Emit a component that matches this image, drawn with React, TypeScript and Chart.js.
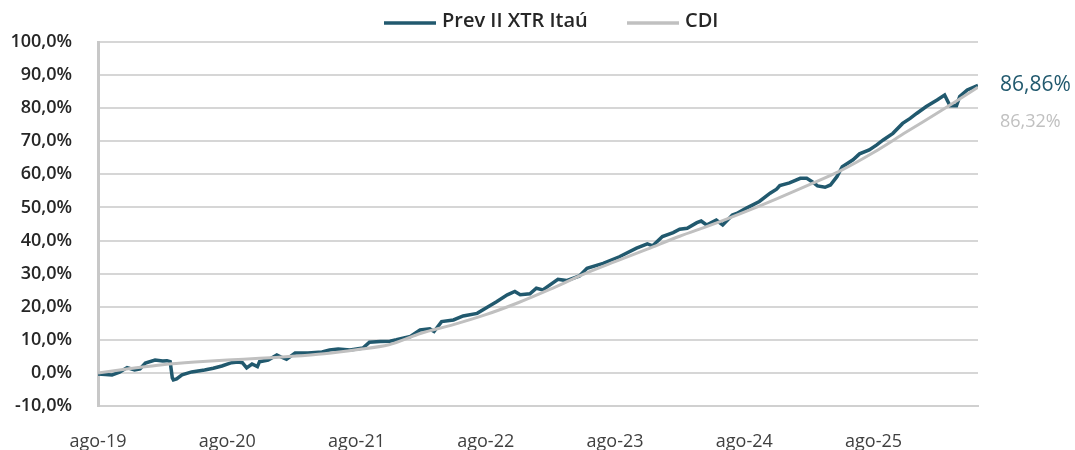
import React, { useEffect, useRef } from "react";
import { Chart, registerables } from "chart.js";
Chart.register(...registerables);

const seriesNames = ["Prev II XTR Itaú", "CDI"];
const seriesColors = ["#21596e", "#c0c0c0"];

const xTickMonths = [0, 12, 24, 36, 48, 60, 72];
const xTickLabels = ["ago-19", "ago-20", "ago-21", "ago-22", "ago-23", "ago-24", "ago-25"];
const xMaxMonth = 81.7;

const yMin = -10;
const yMax = 100;
const yStep = 10;

const prevMonths = [
  0, 0.7, 1.3, 2.0, 2.7, 3.4, 3.9, 4.4, 5.3, 6.0, 6.4, 6.7, 6.9, 7.0, 7.3, 7.8, 8.7, 9.9, 10.7, 11.5,
  12.4, 13.0, 13.4, 13.8, 14.3, 14.8, 15.0, 15.8, 16.6, 17.0, 17.5, 18.3, 19.5, 20.8, 21.5, 22.3, 23.4, 24.6, 25.2, 26.2,
  27.1, 27.7, 29.0, 29.9, 30.8, 31.2, 31.9, 33.0, 33.9, 35.2, 36.1, 37.0, 38.0, 38.7, 39.2, 40.1, 40.7, 41.3, 42.7, 43.5,
  44.7, 45.4, 46.9, 48.4, 50.0, 51.0, 51.5, 52.4, 53.4, 54.0, 54.7, 55.6, 56.0, 56.5, 57.4, 58.0, 58.9, 59.3, 60.2, 61.4,
  62.4, 63.0, 63.3, 64.2, 65.2, 65.8, 66.3, 66.8, 67.5, 68.0, 68.6, 69.1, 70.1, 70.7, 71.6, 72.3, 72.9, 73.8, 74.7, 75.4,
  76.0, 76.9, 77.9, 78.6, 78.9, 79.1, 79.7, 80.0, 80.7, 81.7,
];
const prevValues = [
  -0.3, -0.5, -0.6, 0.2, 1.6, 0.9, 1.2, 3.0, 3.9, 3.6, 3.7, 3.4, -1.5, -2.1, -1.8, -0.6, 0.3, 0.9, 1.4, 2.1,
  3.1, 3.3, 3.1, 1.5, 2.7, 1.9, 3.4, 3.9, 5.4, 4.8, 4.1, 6.0, 6.0, 6.3, 6.9, 7.2, 6.9, 7.5, 9.3, 9.5,
  9.6, 10.0, 11.0, 13.0, 13.3, 12.5, 15.5, 16.0, 17.2, 18.0, 19.8, 21.5, 23.6, 24.6, 23.6, 23.9, 25.6, 25.1, 28.3, 27.9,
  29.3, 31.6, 33.1, 35.1, 37.7, 39.0, 38.4, 41.2, 42.4, 43.4, 43.7, 45.4, 45.9, 44.7, 46.2, 44.7, 47.7, 48.2, 49.8, 51.8,
  54.3, 55.5, 56.6, 57.4, 58.8, 58.8, 57.8, 56.5, 56.1, 56.8, 59.3, 62.3, 64.4, 66.2, 67.4, 68.9, 70.4, 72.4, 75.4, 76.9,
  78.4, 80.5, 82.5, 84.0, 82.0, 80.7, 80.7, 83.5, 85.5, 86.86,
];

const cdiMonths = [0, 3, 6, 9, 12, 15, 18, 21, 24, 27, 30, 33, 36, 39, 42, 45, 48, 51, 54, 57, 60, 63, 66, 69, 72, 75, 78, 81.7];
const cdiValues = [0, 1.3, 2.5, 3.3, 3.9, 4.4, 5.0, 5.8, 7.0, 8.5, 12.0, 14.6, 17.6, 21.2, 25.3, 29.7, 33.6, 37.4, 41.3, 44.8, 48.6, 52.6, 56.8, 61.2, 66.6, 72.7, 78.7, 86.32];

const prevEndLabel = "86,86%";
const cdiEndLabel = "86,32%";

const FONT = "'Open Sans', 'DejaVu Sans', sans-serif";

const overlayPlugin = {
  id: "overlay",
  afterDraw(chart: any) {
    const ctx = chart.ctx;
    const area = chart.chartArea;
    const y = chart.scales.y;
    ctx.save();
    // legend
    const legendY = 21;
    const items = [
      { x: 384, name: seriesNames[0], color: seriesColors[0] },
      { x: 627, name: seriesNames[1], color: seriesColors[1] },
    ];
    ctx.textBaseline = "middle";
    ctx.textAlign = "left";
    ctx.font = `600 20px ${FONT}`;
    for (const it of items) {
      ctx.strokeStyle = it.color;
      ctx.lineWidth = 3.5;
      ctx.beginPath();
      ctx.moveTo(it.x, legendY + 2);
      ctx.lineTo(it.x + 52, legendY + 2);
      ctx.stroke();
      ctx.fillStyle = "#262626";
      ctx.fillText(it.name, it.x + 58, legendY);
    }
    // end labels
    const prevLast = prevValues[prevValues.length - 1];
    const py = y.getPixelForValue(prevLast);
    ctx.font = `400 21px ${FONT}`;
    ctx.fillStyle = seriesColors[0];
    ctx.fillText(prevEndLabel, area.right + 22, py);
    ctx.font = `400 18px ${FONT}`;
    ctx.fillStyle = seriesColors[1];
    ctx.fillText(cdiEndLabel, area.right + 22, py + 36);
    ctx.restore();
  },
};

export default function App() {
  const canvasRef = useRef<HTMLCanvasElement | null>(null);
  useEffect(() => {
    if (!canvasRef.current) return;
    const chart = new Chart(canvasRef.current, {
      type: "line",
      data: {
        datasets: [
          {
            label: seriesNames[0],
            data: prevMonths.map((m, i) => ({ x: m, y: prevValues[i] })),
            borderColor: seriesColors[0],
            borderWidth: 3.5,
            pointRadius: 0,
            tension: 0,
            order: 1,
          },
          {
            label: seriesNames[1],
            data: cdiMonths.map((m, i) => ({ x: m, y: cdiValues[i] })),
            borderColor: seriesColors[1],
            borderWidth: 3,
            pointRadius: 0,
            tension: 0.3,
            order: 0,
          },
        ],
      },
      options: {
        animation: false,
        responsive: false,
        maintainAspectRatio: false,
        layout: { padding: { top: 42, right: 97, left: 0, bottom: 0 } },
        plugins: { legend: { display: false }, tooltip: { enabled: false } },
        scales: {
          x: {
            type: "linear",
            min: 0,
            max: xMaxMonth,
            afterFit: (s: any) => {
              s.height = 44;
            },
            afterBuildTicks: (s: any) => {
              s.ticks = xTickMonths.map((v) => ({ value: v }));
            },
            ticks: {
              autoSkip: false,
              maxRotation: 0,
              padding: 25,
              color: "#404040",
              font: { family: FONT, size: 18, weight: "400" },
              callback: (v: any) => {
                const i = xTickMonths.indexOf(Number(v));
                return i >= 0 ? xTickLabels[i] : "";
              },
            },
            grid: { display: false, drawTicks: false },
            border: { display: true, color: "#d0d0d0", width: 2 },
          },
          y: {
            min: yMin,
            max: yMax,
            afterFit: (s: any) => {
              s.width = 98;
            },
            ticks: {
              stepSize: yStep,
              padding: 26,
              color: "#262626",
              font: { family: FONT, size: 18, weight: "600" },
              callback: (v: any) => Number(v).toFixed(1).replace(".", ",") + "%",
            },
            grid: { color: "#d6d6d6", lineWidth: 2, drawTicks: false },
            border: { display: true, color: "#c8c8c8", width: 3 },
          },
        },
      },
      plugins: [overlayPlugin],
    });
    return () => chart.destroy();
  }, []);
  return (
    <div style={{ position: "fixed", left: 0, top: 0, width: 1075, height: 450, background: "#fff" }}>
      <canvas ref={canvasRef} width={1075} height={450} style={{ width: 1075, height: 450, display: "block" }} />
    </div>
  );
}
